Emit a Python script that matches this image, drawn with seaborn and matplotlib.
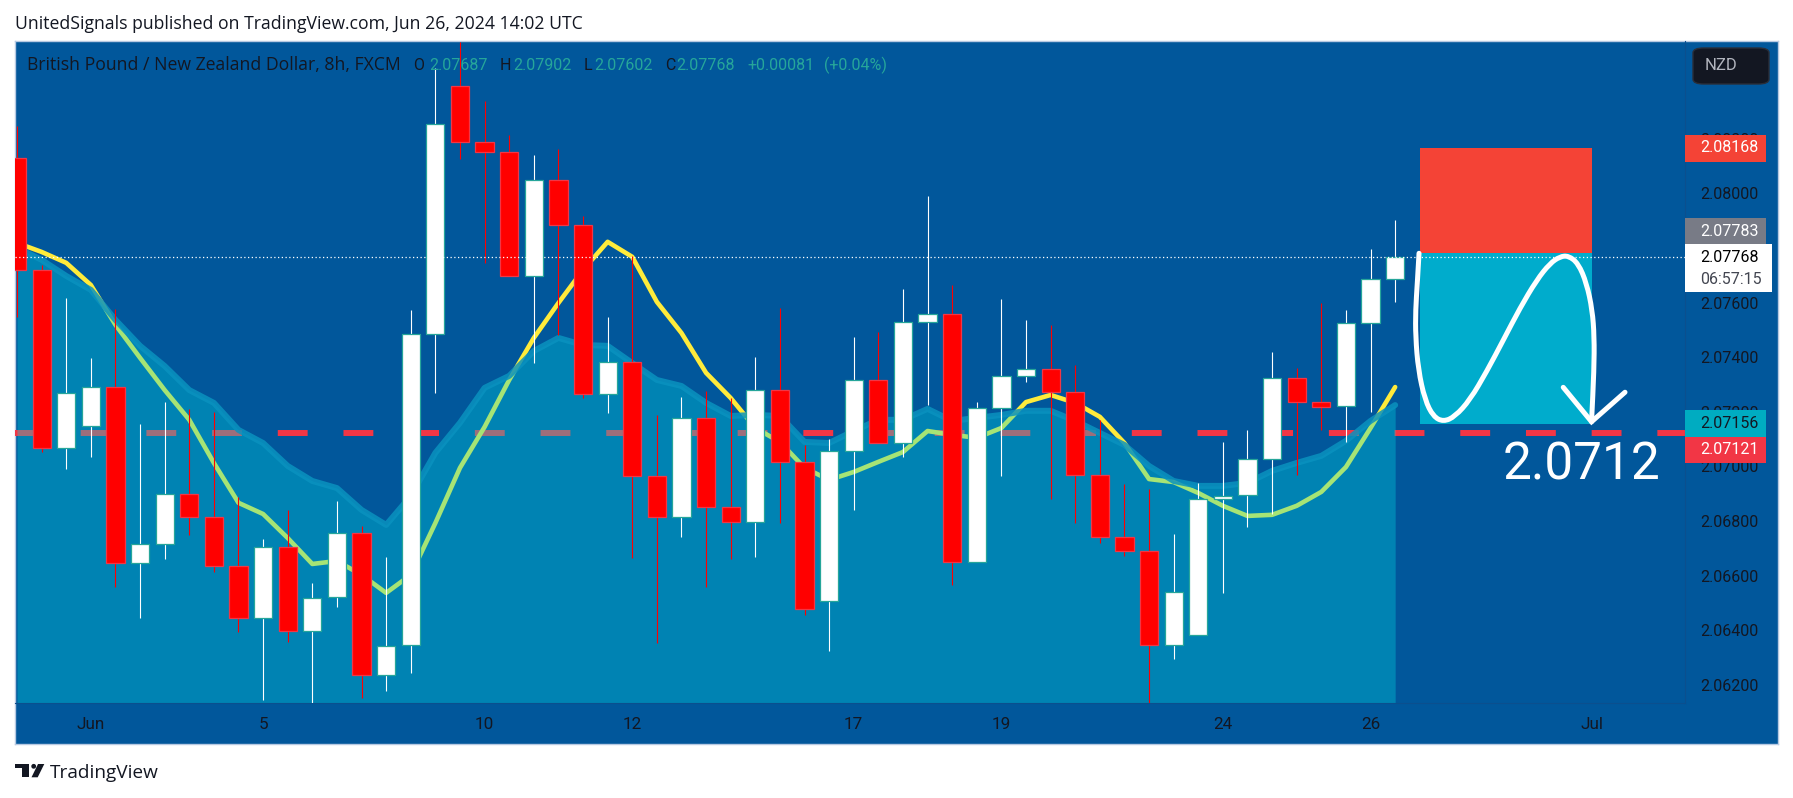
import matplotlib
matplotlib.use('Agg')

import matplotlib.pyplot as plt
import seaborn as sns
from matplotlib.patches import Ellipse, FancyBboxPatch, PathPatch, Polygon, Rectangle
from matplotlib.path import Path

W, H = 1793, 798

# GBPNZD 8h candles
opens = [2.08130, 2.07720, 2.07068, 2.07149, 2.07291, 2.06647, 2.06716, 2.06899, 2.06815, 2.06636, 2.06445, 2.06705, 2.06398, 2.06522, 2.06757, 2.06236, 2.06346, 2.07486, 2.08394,
         2.08189, 2.08152, 2.07698, 2.08050, 2.07885, 2.07266, 2.07383, 2.06965, 2.06815, 2.07178, 2.06852, 2.06797, 2.07280, 2.07017, 2.06508, 2.07057, 2.07317, 2.07086, 2.07530,
         2.07559, 2.06650, 2.07214, 2.07332, 2.07357, 2.07273, 2.06969, 2.06742, 2.06691, 2.06346, 2.06383, 2.06881, 2.06896, 2.07028, 2.07324, 2.07236, 2.07222, 2.07526, 2.07687]
highs = [2.08247, 2.07738, 2.07617, 2.07398, 2.07577, 2.07156, 2.07236, 2.07211, 2.07200, 2.06888, 2.06735, 2.06841, 2.06573, 2.06874, 2.06782, 2.06669, 2.07573, 2.08460, 2.08555,
         2.08339, 2.08214, 2.08141, 2.08163, 2.07918, 2.07548, 2.07771, 2.07189, 2.07255, 2.07277, 2.07251, 2.07401, 2.07581, 2.07079, 2.07101, 2.07475, 2.07493, 2.07650, 2.07991,
         2.07665, 2.07236, 2.07614, 2.07537, 2.07519, 2.07372, 2.07171, 2.06936, 2.06918, 2.06753, 2.06940, 2.07090, 2.07134, 2.07420, 2.07361, 2.07599, 2.07573, 2.07797, 2.07902]
lows = [2.07548, 2.07053, 2.06991, 2.07035, 2.06559, 2.06445, 2.06661, 2.06749, 2.06614, 2.06394, 2.06145, 2.06357, 2.06134, 2.06486, 2.06152, 2.06178, 2.06244, 2.07269, 2.08127,
        2.07746, 2.07698, 2.07379, 2.07482, 2.07251, 2.07196, 2.06665, 2.06354, 2.06742, 2.06559, 2.06661, 2.06669, 2.06793, 2.06456, 2.06324, 2.06841, 2.07086, 2.07035, 2.07225,
        2.06566, 2.06650, 2.06965, 2.07310, 2.06881, 2.06793, 2.06720, 2.06672, 2.06134, 2.06295, 2.06383, 2.06537, 2.06779, 2.06826, 2.06969, 2.07134, 2.07090, 2.07200, 2.07602]
closes = [2.07720, 2.07068, 2.07269, 2.07291, 2.06647, 2.06716, 2.06899, 2.06815, 2.06636, 2.06445, 2.06705, 2.06398, 2.06519, 2.06757, 2.06236, 2.06343, 2.07486, 2.08255, 2.08189,
          2.08152, 2.07698, 2.08050, 2.07885, 2.07266, 2.07383, 2.06965, 2.06815, 2.07178, 2.06852, 2.06797, 2.07280, 2.07017, 2.06478, 2.07057, 2.07317, 2.07086, 2.07530, 2.07559,
          2.06650, 2.07214, 2.07332, 2.07357, 2.07273, 2.06969, 2.06742, 2.06691, 2.06346, 2.06541, 2.06881, 2.06892, 2.07028, 2.07324, 2.07236, 2.07218, 2.07526, 2.07687, 2.07768]
# yellow moving average
ma_values = [2.07819, 2.07786, 2.07746, 2.07665, 2.07519, 2.07398, 2.07280, 2.07171, 2.07013, 2.06867, 2.06826, 2.06738, 2.06643, 2.06654, 2.06603, 2.06537, 2.06603, 2.06793, 2.06995,
             2.07145, 2.07317, 2.07471, 2.07599, 2.07720, 2.07823, 2.07768, 2.07603, 2.07489, 2.07343, 2.07251, 2.07141, 2.07090, 2.06995, 2.06951, 2.06980, 2.07017, 2.07053, 2.07130,
             2.07116, 2.07105, 2.07141, 2.07236, 2.07262, 2.07233, 2.07182, 2.07086, 2.06954, 2.06943, 2.06903, 2.06856, 2.06819, 2.06823, 2.06856, 2.06907, 2.06998, 2.07141, 2.07291]
# top of the blue area
area_values = [2.07801, 2.07757, 2.07698, 2.07647, 2.07537, 2.07442, 2.07368, 2.07280, 2.07233, 2.07134, 2.07086, 2.07002, 2.06947, 2.06921, 2.06841, 2.06786, 2.06892, 2.07050, 2.07160,
               2.07288, 2.07332, 2.07423, 2.07471, 2.07445, 2.07442, 2.07379, 2.07317, 2.07295, 2.07233, 2.07185, 2.07189, 2.07185, 2.07090, 2.07086, 2.07130, 2.07171, 2.07171, 2.07211,
               2.07167, 2.07178, 2.07189, 2.07204, 2.07204, 2.07167, 2.07123, 2.07079, 2.07002, 2.06947, 2.06929, 2.06929, 2.06940, 2.06984, 2.07013, 2.07039, 2.07094, 2.07167, 2.07225]

# 2.07800 sits fully behind the grey and white tags in the reference, so it is left out
price_ticks = [2.06200, 2.06400, 2.06600, 2.06800, 2.07000, 2.07200, 2.07400, 2.07600, 2.08000, 2.08200]
date_ticks = [3, 10, 19, 25, 34, 40, 49, 55, 64]
date_labels = ['Jun', '5', '10', '12', '17', '19', '24', '26', 'Jul']

stop_price = 2.08168
entry_price = 2.07783
target_price = 2.07156
level_price = 2.07121
last_price = 2.07768
position_start, position_end = 57, 64

# hand drawn curve and arrow on top of the position box
curve_x = [56.97, 56.9, 56.83, 56.83, 56.94, 57.21, 57.55, 57.96, 58.43, 59.04, 59.72, 60.4, 61.07, 61.75, 62.29, 62.7, 63.04, 63.44, 63.78, 64.01, 64.09, 64.08, 63.98]
curve_y = [2.07781, 2.07671, 2.07573, 2.07476, 2.07354, 2.07244, 2.07183, 2.07164, 2.07183, 2.07244, 2.07348, 2.07464, 2.0758, 2.07683, 2.07744, 2.07769, 2.07772, 2.07744, 2.07671, 2.07573, 2.07476, 2.07354, 2.07164]
arrow_x = [62.83, 63.98, 65.34]
arrow_y = [2.0729, 2.07164, 2.07272]

BG = '#01579B'
DARK = '#131722'
TEAL = '#26A69A'
FONT = 'Roboto'
PROSE = 'Open Sans'

sns.set_theme(style='dark', rc={'axes.facecolor': BG})
plt.rcParams['font.family'] = [FONT, 'DejaVu Sans']


def fig_box(x0, y0, x1, y1):
    """pixel box (y from top) to figure fractions"""
    return [x0 / W, 1 - y1 / H, (x1 - x0) / W, (y1 - y0) / H]


def px_text(x, y, s, **kw):
    kw.setdefault('va', 'center')
    kw.setdefault('color', DARK)
    kw.setdefault('fontsize', 11.5)
    fig.text(x / W, 1 - y / H, s, **kw)


def px_tag(x0, y0, x1, y1, color):
    fig.add_artist(Rectangle((x0 / W, 1 - y1 / H), (x1 - x0) / W, (y1 - y0) / H, color=color,
                             lw=0, transform=fig.transFigure))


fig = plt.figure(figsize=(W / 100, H / 100), dpi=100, facecolor='white')

# frame behind plot + both axis strips
frame = fig.add_axes(fig_box(15, 41, 1778, 744), facecolor=BG)
frame.set_xticks([])
frame.set_yticks([])
for s in frame.spines.values():
    s.set_color('#B7C9E2')
    s.set_linewidth(1)

ax = fig.add_axes(fig_box(15, 41, 1685, 703))
ax.patch.set_alpha(0)
ax.set_xlim((15 - 17) / 24.61, (1685 - 17) / 24.61)
ax.set_ylim(2.0613370, 2.0855860)

idx = list(range(len(closes)))

# these two go under the area, so it tints them (yellow -> green, red -> grey)
ax.axhline(level_price, color='#F23645', lw=4.3, ls=(0, (5, 6)), zorder=1)
sns.lineplot(x=idx, y=ma_values, color='#FFEB3B', lw=3.3, ax=ax, zorder=1, estimator=None, errorbar=None)

ax.fill_between(idx, area_values, 2.0613370, color='#00D7E2', alpha=0.35, lw=0, zorder=2)
sns.lineplot(x=idx, y=area_values, color='#0A92BF', lw=4.3, alpha=0.85, ax=ax, zorder=2, estimator=None, errorbar=None)

# candles
for i in idx:
    is_up = closes[i] >= opens[i]
    wick = 'white' if is_up else '#FF0000'
    ax.vlines(i, lows[i], highs[i], color=wick, lw=0.8, zorder=3)
    ax.bar(i, abs(closes[i] - opens[i]), bottom=min(opens[i], closes[i]), width=0.74,
           color='white' if is_up else '#FF0000', edgecolor=TEAL if is_up else '#F23645', linewidth=0.9, zorder=4)

# short position box
ax.add_patch(Rectangle((position_start, entry_price), position_end - position_start, stop_price - entry_price,
                       color='#F44336', lw=0, zorder=5))
ax.add_patch(Rectangle((position_start, target_price), position_end - position_start, entry_price - target_price,
                       color='#00ACCC', lw=0, zorder=5))

ax.axhline(last_price, color='white', lw=0.9, ls=(0, (1, 2)), zorder=6)

# freehand curve, smoothed through the midpoints
pts = list(zip(curve_x, curve_y))
verts = [pts[0]]
codes = [Path.MOVETO]
for a, b in zip(pts[1:-1], pts[2:]):
    verts += [a, ((a[0] + b[0]) / 2, (a[1] + b[1]) / 2)]
    codes += [Path.CURVE3, Path.CURVE3]
verts.append(pts[-1])
codes.append(Path.LINETO)
ax.add_patch(PathPatch(Path(verts, codes), fc='none', ec='white', lw=3.6, capstyle='round', joinstyle='round', zorder=7))
ax.plot(arrow_x, arrow_y, color='white', lw=3.6, solid_capstyle='round', solid_joinstyle='miter', zorder=7)
ax.text((1582 - 17) / 24.61, 2.08 - (466 - 193.5) / 27300, '2.0712', color='white', fontsize=37,
        ha='center', va='center', zorder=7)

# axes text
ax.yaxis.tick_right()
ax.set_yticks(price_ticks)
ax.set_yticklabels(['%.5f' % p for p in price_ticks], color=DARK, fontsize=11.5)
ax.set_xticks(date_ticks)
ax.set_xticklabels(date_labels, color=DARK, fontsize=12.3)
ax.tick_params(axis='y', length=0, pad=11)
ax.tick_params(axis='x', length=0, pad=10)
ax.set_xlabel('')
ax.set_ylabel('')
ax.grid(False)
for s in ax.spines.values():
    s.set_visible(False)
ax.spines['right'].set_visible(True)
ax.spines['right'].set_color('#0B4F8E')
ax.spines['right'].set_linewidth(0.8)
ax.spines['bottom'].set_visible(True)
ax.spines['bottom'].set_color('#0B4F8E')
ax.spines['bottom'].set_linewidth(0.8)

# header and legend text
px_text(15, 24, 'UnitedSignals published on TradingView.com, Jun 26, 2024 14:02 UTC', fontsize=12.7, family=PROSE)
px_text(27, 65, 'British Pound / New Zealand Dollar, 8h, FXCM', fontsize=12.7, family=PROSE)
for x, s, c in [(413, 'O', DARK), (429, '2.07687', TEAL), (500, 'H', DARK), (513, '2.07902', TEAL),
                (584, 'L', DARK), (594, '2.07602', TEAL), (665, 'C', DARK), (676, '2.07768', TEAL),
                (747, '+0.00081', TEAL), (824, '(+0.04%)', TEAL)]:
    px_text(x, 65, s, color=c)

# price tags
px_tag(1685, 135, 1766, 162, '#F44336')
px_text(1700, 148, '2.08168', color='white')
px_tag(1685, 218, 1766, 244, '#787B86')
px_text(1700, 231, '2.07783', color='white')
px_tag(1685, 244, 1772, 292, 'white')
px_text(1700, 257, '2.07768', color='black')
px_text(1700, 279, '06:57:15', color='#434651')
px_tag(1685, 410, 1766, 437, '#00ACC1')
px_text(1700, 424, '2.07156', color=DARK)
px_tag(1685, 437, 1766, 463, '#F23645')
px_text(1700, 450, '2.07121', color='white')

# currency button
fig.add_artist(FancyBboxPatch((1693 / W, 1 - 84 / H), 76 / W, 36 / H, boxstyle='round,pad=0,rounding_size=0.006',
                              fc=DARK, ec='#2A2E39', lw=1, transform=fig.transFigure))
px_text(1705, 66, 'NZD', color='#B2B5BE', fontsize=12)

# TradingView mark
for shape in [[(15, 764), (29.3, 764), (29.3, 777.3), (22.3, 777.3), (22.3, 768.3), (15, 768.3)],
              [(38, 764), (44.3, 764), (37.7, 777.3), (31.5, 777.3)]]:
    fig.add_artist(Polygon([(x / W, 1 - y / H) for x, y in shape], closed=True, fc=DARK, lw=0, transform=fig.transFigure))
fig.add_artist(Ellipse((33.7 / W, 1 - 766.3 / H), 4.8 / W, 4.8 / H, fc=DARK, lw=0, transform=fig.transFigure))
px_text(50, 773, 'TradingView', fontsize=13.7, family=PROSE)

fig.savefig('out.png', dpi=100)
plt.close()
